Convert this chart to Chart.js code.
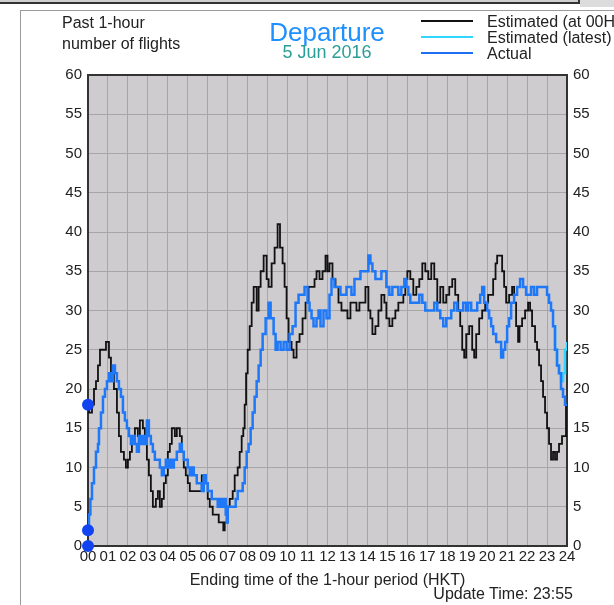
<!DOCTYPE html>
<html>
<head>
<meta charset="utf-8">
<title>Departure</title>
<script src="https://cdn.jsdelivr.net/npm/chart.js@4.4.0/dist/chart.umd.min.js"></script>
<style>
  body { margin: 0; width: 614px; height: 605px; overflow: hidden; background: #fff;
         font-family: "Liberation Sans", Arial, sans-serif; color: #222; position: relative; }
  #topbar { position: absolute; left: 0; top: 0; width: 578px; height: 2px; background: #cfcfcf;
            border-bottom: 2px solid #333; border-right: 2px solid #333; }
  #topgray { position: absolute; left: 580px; top: 0; width: 40px; height: 7px; background: #dcdcdc; }
  #frame { position: absolute; left: 20px; top: 10px; width: 620px; height: 620px; border: 1px solid #9a9a9a; }
  #wrap { position: absolute; left: 0; top: 0; width: 614px; height: 605px; }
  .txt { position: absolute; white-space: nowrap; }
  .leg { position: absolute; left: 421px; width: 52px; height: 2px; }
</style>
</head>
<body>
<div id="topbar"></div>
<div id="topgray"></div>
<div id="frame"></div>
<div id="wrap"><canvas id="myChart" width="614" height="605"></canvas></div>

<div class="txt" style="left:62px; top:12px; font-size:16px; line-height:21px;">Past 1-hour<br>number of flights</div>
<div class="txt" style="left:227px; width:200px; text-align:center; top:17px; font-size:26px; line-height:30px; color:#1e8fff;">Departure</div>
<div class="txt" style="left:227px; width:200px; text-align:center; top:42px; font-size:18px; line-height:20px; color:#2a9d96;">5 Jun 2016</div>

<div class="leg" style="top:20px; background:#111;"></div>
<div class="leg" style="top:36px; background:#2fd6ff;"></div>
<div class="leg" style="top:52px; background:#1e6ff5;"></div>
<div class="txt" style="left:487px; top:14px; font-size:16px; line-height:16px;">Estimated (at 00H)<br>Estimated (latest)<br>Actual</div>

<div class="txt" style="right:41px; top:585px; font-size:16px; line-height:18px;">Update Time: 23:55</div>

<script>
// hours (end of 1-hour window) and flight counts
const estHours = [
  0, 0.05, 0.2, 0.3, 0.4, 0.5, 0.6, 0.75, 0.9,
  1.05, 1.15, 1.3, 1.45, 1.55, 1.65, 1.8, 1.9,
  2.0, 2.1, 2.2, 2.35, 2.5, 2.6, 2.75, 2.85, 2.95,
  3.05, 3.15, 3.25, 3.4, 3.5, 3.6, 3.7, 3.8, 3.9,
  4.0, 4.1, 4.2, 4.35, 4.45, 4.6, 4.7, 4.8, 4.9,
  5.0, 5.1, 5.4, 5.7, 5.9,
  6.0, 6.1, 6.25, 6.4, 6.55, 6.7, 6.78, 6.85,
  7.0, 7.1, 7.25, 7.35, 7.5, 7.6, 7.7, 7.78, 7.85, 7.92,
  8.0, 8.1, 8.2, 8.3, 8.45, 8.55, 8.65, 8.8, 8.95,
  9.05, 9.2, 9.35, 9.5, 9.62, 9.75, 9.85, 9.95,
  10.05, 10.2, 10.3, 10.45, 10.6, 10.75, 10.9,
  11.05, 11.2, 11.35, 11.45, 11.6, 11.75, 11.9,
  12.0, 12.1, 12.25, 12.4, 12.55, 12.7, 12.85,
  13.0, 13.15, 13.3, 13.45, 13.6, 13.75, 13.9,
  14.05, 14.15, 14.25, 14.4, 14.55, 14.7, 14.85, 14.95,
  15.1, 15.25, 15.4, 15.55, 15.7, 15.8, 15.9,
  16.0, 16.15, 16.3, 16.45, 16.6, 16.75, 16.9,
  17.05, 17.2, 17.35, 17.5, 17.65, 17.8, 17.95,
  18.1, 18.25, 18.4, 18.55, 18.65, 18.75, 18.85, 18.95,
  19.1, 19.25, 19.35, 19.45, 19.6, 19.75, 19.9,
  20.05, 20.2, 20.3, 20.42, 20.5, 20.65, 20.75, 20.85, 20.95,
  21.1, 21.25, 21.35, 21.45, 21.55, 21.62, 21.75, 21.9,
  22.05, 22.15, 22.25, 22.4, 22.5, 22.6, 22.7, 22.8, 22.9,
  23.0, 23.1, 23.2, 23.3, 23.4, 23.5, 23.6, 23.75, 23.95, 24
];
const estValues = [
  18, 17, 18, 20, 21, 23, 25, 25, 26,
  24, 22, 20, 17, 14, 12, 11, 10,
  11, 12, 14, 15, 14, 16, 15, 13, 11,
  9, 7, 5, 6, 7, 5, 6, 8, 9,
  12, 13, 15, 14, 15, 14, 12, 10, 9,
  8, 7, 7, 9, 8,
  6, 5, 4, 4, 3, 3, 2, 3,
  5, 6, 7, 9, 10, 12, 14, 15, 18, 22,
  25, 28, 31, 33, 30, 33, 35, 37, 34,
  33, 36, 38, 41, 38, 36, 33, 29,
  26, 25, 24, 26, 27, 29, 31,
  33, 33, 34, 35, 34, 35, 37,
  35, 36, 34, 33, 31, 30, 30,
  29, 31, 31, 30, 31, 31, 33,
  30, 29, 27, 28, 30, 32, 31, 29,
  28, 29, 30, 31, 31, 32, 34,
  35, 34, 32, 33, 34, 36, 35,
  34, 36, 34, 31, 33, 31, 32,
  33, 34, 32, 30, 28, 25, 24, 27,
  28, 25, 24, 27, 29, 30, 31,
  32, 32, 34, 36, 37, 37, 35, 33, 31,
  32, 33, 31, 28, 26, 28, 29, 30,
  31, 30, 28, 26, 25, 23, 21, 19, 17,
  15, 13, 11, 12, 11, 12, 13, 14, 18, 18
];

const actHours = [
  0, 0.05, 0.12, 0.2, 0.3, 0.4, 0.5, 0.55, 0.65, 0.75, 0.85, 0.95,
  1.05, 1.15, 1.25, 1.35, 1.45, 1.55, 1.65, 1.75, 1.85, 1.95,
  2.05, 2.15, 2.25, 2.35, 2.45, 2.55, 2.65, 2.75, 2.85, 2.95,
  3.05, 3.15, 3.25, 3.35, 3.5, 3.6, 3.7, 3.8, 3.9,
  4.0, 4.1, 4.2, 4.3, 4.45, 4.6, 4.7, 4.8, 4.9,
  5.0, 5.1, 5.2, 5.3, 5.45, 5.6, 5.7, 5.8, 5.9,
  6.0, 6.1, 6.2, 6.4, 6.5, 6.6, 6.7, 6.8, 6.9, 6.95,
  7.0, 7.15, 7.3, 7.4, 7.5, 7.6, 7.75, 7.85, 7.95,
  8.05, 8.15, 8.25, 8.35, 8.45, 8.55, 8.65, 8.75, 8.9,
  9.05, 9.15, 9.3, 9.4, 9.5, 9.65, 9.8, 9.95,
  10.1, 10.25, 10.4, 10.55, 10.7, 10.85,
  11.0, 11.1, 11.2, 11.3, 11.45, 11.55, 11.65, 11.8, 11.95,
  12.1, 12.2, 12.35, 12.5, 12.65, 12.8, 12.95,
  13.05, 13.2, 13.35, 13.5, 13.65, 13.8, 13.95,
  14.05, 14.15, 14.25, 14.4, 14.55, 14.7, 14.85, 14.95,
  15.1, 15.25, 15.4, 15.55, 15.7, 15.85, 15.95,
  16.05, 16.15, 16.3, 16.45, 16.6, 16.75, 16.9,
  17.05, 17.2, 17.35, 17.5, 17.65, 17.8, 17.95,
  18.1, 18.2, 18.35, 18.5, 18.65, 18.8, 18.95,
  19.05, 19.2, 19.35, 19.5, 19.65, 19.75, 19.85,
  20.0, 20.1, 20.2, 20.3, 20.45, 20.6, 20.7, 20.8, 20.9,
  21.0, 21.1, 21.2, 21.35, 21.5, 21.65, 21.8, 21.95,
  22.05, 22.2, 22.35, 22.5, 22.65, 22.8,
  23.0, 23.1, 23.2, 23.3, 23.4, 23.5, 23.6, 23.7, 23.8, 23.9, 24
];
const actValues = [
  2, 4, 6, 8, 10, 12, 13, 15, 17, 19, 20, 21,
  22, 21, 23, 22, 21, 20, 19, 17, 16, 15,
  14, 13, 14, 13, 12, 14, 13, 14, 13, 16,
  14, 13, 12, 11, 11, 10, 9, 10, 11,
  10, 11, 10, 11, 12, 13, 12, 11, 11,
  10, 9, 10, 9, 8, 8, 7, 9, 8,
  7, 7, 6, 6, 5, 6, 5, 6, 4, 3,
  5, 5, 5, 6, 7, 7, 8, 10, 12,
  13, 15, 17, 19, 21, 23, 25, 27, 29,
  31, 29, 27, 25, 26, 25, 26, 25,
  27, 28, 31, 32, 32, 33,
  31, 30, 29, 28, 29, 30, 28, 30, 29,
  32, 34, 33, 33, 32, 32, 33,
  33, 32, 34, 34, 35, 35, 35,
  37, 36, 35, 34, 34, 35, 35, 33,
  32, 33, 33, 32, 33, 34, 33,
  32, 31, 31, 31, 32, 31, 30,
  30, 30, 31, 30, 29, 28, 29,
  29, 30, 31, 30, 30, 31, 30,
  31, 30, 30, 31, 32, 33, 31,
  30, 29, 28, 27, 26, 26, 24, 25, 26,
  28, 29, 31, 32, 33, 34, 33, 32,
  32, 33, 32, 33, 33, 33,
  32, 31, 30, 28, 25, 23, 22, 20, 19, 18, 18
];

const latestHours = [23.3, 23.4, 23.5, 23.6, 23.7, 23.8, 23.9, 24];
const latestValues = [28, 25, 23, 22, 21, 22, 25, 26];

const dotHours = [0, 0, 0];
const dotValues = [18, 2, 0];

const hourLabels = ['00','01','02','03','04','05','06','07','08','09','10','11','12',
                    '13','14','15','16','17','18','19','20','21','22','23','24'];

function toPoints(hours, values) {
    return hours.map((h, i) => ({ x: h, y: values[i] }));
}

// grey plot background and dark frame round the plot
const plotFrame = {
    id: 'plotFrame',
    beforeDraw(chart) {
        const a = chart.chartArea;
        const ctx = chart.ctx;
        ctx.save();
        ctx.fillStyle = '#cecccf';
        ctx.fillRect(a.left, a.top, a.right - a.left, a.bottom - a.top);
        ctx.restore();
    },
    beforeDatasetsDraw(chart) {
        const a = chart.chartArea;
        const ctx = chart.ctx;
        ctx.save();
        ctx.strokeStyle = '#333';
        ctx.lineWidth = 2;
        ctx.strokeRect(a.left, a.top, a.right - a.left, a.bottom - a.top);
        ctx.restore();
    }
};

const tickFont = { family: '"Liberation Sans", Arial, sans-serif', size: 15 };

const data = {
    datasets: [
        {
            label: 'dots',
            data: toPoints(dotHours, dotValues),
            showLine: false,
            pointRadius: 6,
            pointBackgroundColor: '#1144f0',
            pointBorderWidth: 0,
            clip: false
        },
        {
            label: 'Actual',
            data: toPoints(actHours, actValues),
            borderColor: '#1e78f8',
            borderWidth: 2.5,
            stepped: true,
            pointRadius: 0
        },
        {
            label: 'Estimated (latest)',
            data: toPoints(latestHours, latestValues),
            borderColor: '#2fd6ff',
            borderWidth: 2.5,
            stepped: true,
            pointRadius: 0
        },
        {
            label: 'Estimated (at 00H)',
            data: toPoints(estHours, estValues),
            borderColor: '#111',
            borderWidth: 1.8,
            stepped: true,
            pointRadius: 0
        }
    ]
};

const config = {
    type: 'line',
    data,
    plugins: [plotFrame],
    options: {
        responsive: false,
        animation: false,
        layout: { padding: { top: 75, left: 0, right: 0, bottom: 0 } },
        plugins: { legend: { display: false }, tooltip: { enabled: false } },
        scales: {
            x: {
                type: 'linear',
                min: 0,
                max: 24,
                afterFit: s => { s.height = 59; },
                grid: { color: '#a7a5a7', lineWidth: 1, drawTicks: false },
                border: { display: false },
                ticks: {
                    stepSize: 1,
                    autoSkip: false,
                    maxRotation: 0,
                    padding: 2,
                    color: '#222',
                    font: tickFont,
                    callback: v => hourLabels[v]
                },
                title: {
                    display: true,
                    text: 'Ending time of the 1-hour period (HKT)',
                    color: '#222',
                    font: { family: '"Liberation Sans", Arial, sans-serif', size: 16 },
                    padding: { top: 0, bottom: 15 }
                }
            },
            y: {
                min: 0,
                max: 60,
                afterFit: s => { s.width = 88; },
                grid: { color: '#a7a5a7', lineWidth: 1, drawTicks: false },
                border: { display: false },
                ticks: { stepSize: 5, padding: 6, color: '#222', font: tickFont }
            },
            y2: {
                position: 'right',
                min: 0,
                max: 60,
                afterFit: s => { s.width = 47; },
                grid: { display: false, drawTicks: false },
                border: { display: false },
                ticks: { stepSize: 5, padding: 6, color: '#222', font: tickFont }
            }
        }
    }
};

const myChart = new Chart(document.getElementById('myChart'), config);
</script>
</body>
</html>
